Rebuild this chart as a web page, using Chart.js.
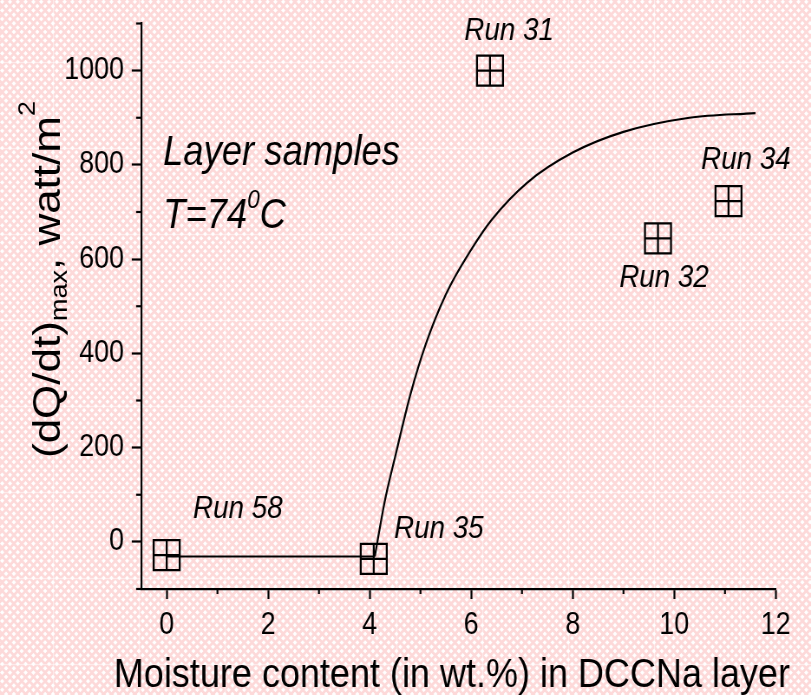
<!DOCTYPE html>
<html>
<head>
<meta charset="utf-8">
<script src="https://cdn.jsdelivr.net/npm/chart.js@4.4.1/dist/chart.umd.min.js"></script>
<style>
  html, body { margin: 0; padding: 0; overflow: hidden; background: #fff; }
  #wrap { width: 811px; height: 695px; overflow: hidden; }
  #moisture { transform: scaleX(0.8674); transform-origin: 0 0; }
</style>
</head>
<body>
<div id="wrap"><canvas id="moisture" width="935" height="695"></canvas></div>
<script>
// measured runs
const runNames = ['Run 58', 'Run 35', 'Run 31', 'Run 32', 'Run 34'];
const runMoisture = [0, 4.08, 6.37, 9.68, 11.07];
const runHeatRate = [-28, -36, 1000, 644, 723];

// trend line: flat part, then the rise
const flatX = [0, 4.1];
const flatY = [-31, -31];
const riseX = [4.1, 4.3, 4.5, 4.8, 5.1, 5.5, 6.0, 6.4, 7.1, 8.0, 9.0, 10.3, 11.6];
const riseY = [-31, 88, 180, 312, 418, 525, 620, 683, 762, 826, 870, 900, 910];

const xMajor = [0, 2, 4, 6, 8, 10, 12];
const xMinor = [1, 3, 5, 7, 9, 11];
const yMajor = [0, 200, 400, 600, 800, 1000];
const yMinor = [-100, 100, 300, 500, 700, 900, 1100];

// label offsets from the marker, canvas px
const runLabelDx = [82, 75, 22, 7, 20];
const runLabelDy = [-49, -32, -42, 37, -44];

const FONT = "'Liberation Sans', Arial, sans-serif";

function pts(xs, ys) {
  return xs.map((x, i) => ({ x: x, y: ys[i] }));
}

// pink diamond lattice, one tile of the paper background
function makeTile() {
  const t = document.createElement('canvas');
  const w = 99, h = 86, sx = 9, sy = 8.6;
  t.width = w; t.height = h;
  const g = t.getContext('2d');
  g.fillStyle = '#ffffff';
  g.fillRect(0, 0, w, h);
  g.strokeStyle = '#fdd9d9';
  g.lineWidth = 2.8;
  for (let i = -14; i < 14; i++) {
    g.beginPath(); g.moveTo(i * sx - sx, -sy); g.lineTo(i * sx + 11 * sx, h + sy); g.stroke();
    g.beginPath(); g.moveTo(i * sx - sx, h + sy); g.lineTo(i * sx + 11 * sx, -sy); g.stroke();
  }
  g.fillStyle = 'rgba(255,255,255,0.45)';
  g.fillRect(0, 0, w, 1.2);
  g.fillRect(0, 0, 1.2, h);
  return t;
}

const background = {
  id: 'background',
  beforeDraw(chart) {
    const c = chart.ctx;
    c.save();
    c.translate(61 - 99, 62 - 86);
    c.fillStyle = c.createPattern(makeTile(), 'repeat');
    c.fillRect(0, 0, chart.width + 200, chart.height + 200);
    c.restore();
  }
};

const minorTicks = {
  id: 'minorTicks',
  afterDraw(chart) {
    const c = chart.ctx, xs = chart.scales.x, ys = chart.scales.y;
    c.save();
    c.strokeStyle = '#000';
    c.lineWidth = 2.2;
    xMinor.forEach(v => {
      const px = xs.getPixelForValue(v);
      c.beginPath(); c.moveTo(px, xs.top); c.lineTo(px, xs.top + 5); c.stroke();
    });
    yMinor.forEach(v => {
      const py = ys.getPixelForValue(v);
      c.beginPath(); c.moveTo(ys.right - 6, py); c.lineTo(ys.right, py); c.stroke();
    });
    c.restore();
  }
};

// draws a run of text pieces, each {t, size, dy, italic}
function pieces(c, x, y, list) {
  let cx = x;
  list.forEach(p => {
    c.font = (p.italic ? 'italic ' : '') + p.size + 'px ' + FONT;
    c.fillText(p.t, cx, y + (p.dy || 0));
    cx += c.measureText(p.t).width;
  });
}

const texts = {
  id: 'texts',
  afterDraw(chart) {
    const c = chart.ctx, xs = chart.scales.x, ys = chart.scales.y;
    c.save();
    c.fillStyle = '#000';
    c.textBaseline = 'alphabetic';

    // run labels
    c.textAlign = 'center';
    c.font = 'italic 32px ' + FONT;
    runNames.forEach((name, i) => {
      const px = xs.getPixelForValue(runMoisture[i]) + runLabelDx[i];
      const py = ys.getPixelForValue(runHeatRate[i]) + runLabelDy[i] + 11.5;
      c.fillText(name, px, py);
    });

    // sample note
    c.textAlign = 'left';
    c.font = 'italic 42px ' + FONT;
    c.fillText('Layer samples', 188, 165);
    pieces(c, 188, 228, [
      { t: 'T=74', size: 42, italic: true },
      { t: '0', size: 26, italic: true, dy: -20 },
      { t: 'C', size: 42, italic: true }
    ]);

    // x title
    c.textAlign = 'center';
    c.font = '41.5px ' + FONT;
    c.fillText('Moisture content (in wt.%) in DCCNa layer', 521, 687);

    // y title
    c.textAlign = 'left';
    c.translate(69, 458);
    c.rotate(-Math.PI / 2);
    pieces(c, 0, 0, [
      { t: '(dQ/dt)', size: 44 },
      { t: 'max', size: 27, dy: 8 },
      { t: ', watt/m', size: 44 },
      { t: '2', size: 27, dy: -29 }
    ]);
    c.restore();
  }
};

const ctx = document.getElementById('moisture').getContext('2d');
const chart = new Chart(ctx, {
  type: 'scatter',
  data: {
    datasets: [
      {
        data: pts(flatX, flatY),
        showLine: true,
        pointRadius: 0,
        borderColor: '#000',
        borderWidth: 2.2
      },
      {
        data: pts(riseX, riseY),
        showLine: true,
        pointRadius: 0,
        borderColor: '#000',
        borderWidth: 2.2,
        cubicInterpolationMode: 'monotone'
      },
      {
        data: pts(runMoisture, runHeatRate),
        pointStyle: 'rect',
        pointRadius: 21.2,
        borderColor: '#000',
        backgroundColor: 'rgba(0,0,0,0)',
        borderWidth: 2.3
      },
      {
        data: pts(runMoisture, runHeatRate),
        pointStyle: 'cross',
        pointRadius: 15,
        borderColor: '#000',
        borderWidth: 2.3
      }
    ]
  },
  options: {
    responsive: false,
    animation: false,
    events: [],
    layout: { padding: { top: 19, right: 40.7, left: 0, bottom: 0 } },
    plugins: { legend: { display: false }, tooltip: { enabled: false } },
    scales: {
      x: {
        type: 'linear',
        min: -0.5,
        max: 12,
        afterFit: s => { s.height = 106; s.paddingLeft = 0; s.paddingRight = 0; },
        afterBuildTicks: s => { s.ticks = xMajor.map(v => ({ value: v })); },
        ticks: {
          padding: 8, color: '#000', maxRotation: 0, autoSkip: false,
          font: { family: FONT, size: 31 },
          callback: v => String(v)
        },
        grid: { drawOnChartArea: false, tickLength: 10, tickWidth: 2.2, tickColor: '#000' },
        border: { color: '#000', width: 2.2 }
      },
      y: {
        type: 'linear',
        min: -100,
        max: 1100,
        afterFit: s => { s.width = 162.9; s.paddingTop = 0; s.paddingBottom = 0; },
        afterBuildTicks: s => { s.ticks = yMajor.map(v => ({ value: v })); },
        ticks: {
          padding: 9, color: '#000', autoSkip: false,
          font: { family: FONT, size: 31 },
          callback: v => String(v)
        },
        grid: { drawOnChartArea: false, tickLength: 11, tickWidth: 2.2, tickColor: '#000' },
        border: { color: '#000', width: 2.2 }
      }
    }
  },
  plugins: [background, minorTicks, texts]
});
</script>
</body>
</html>
